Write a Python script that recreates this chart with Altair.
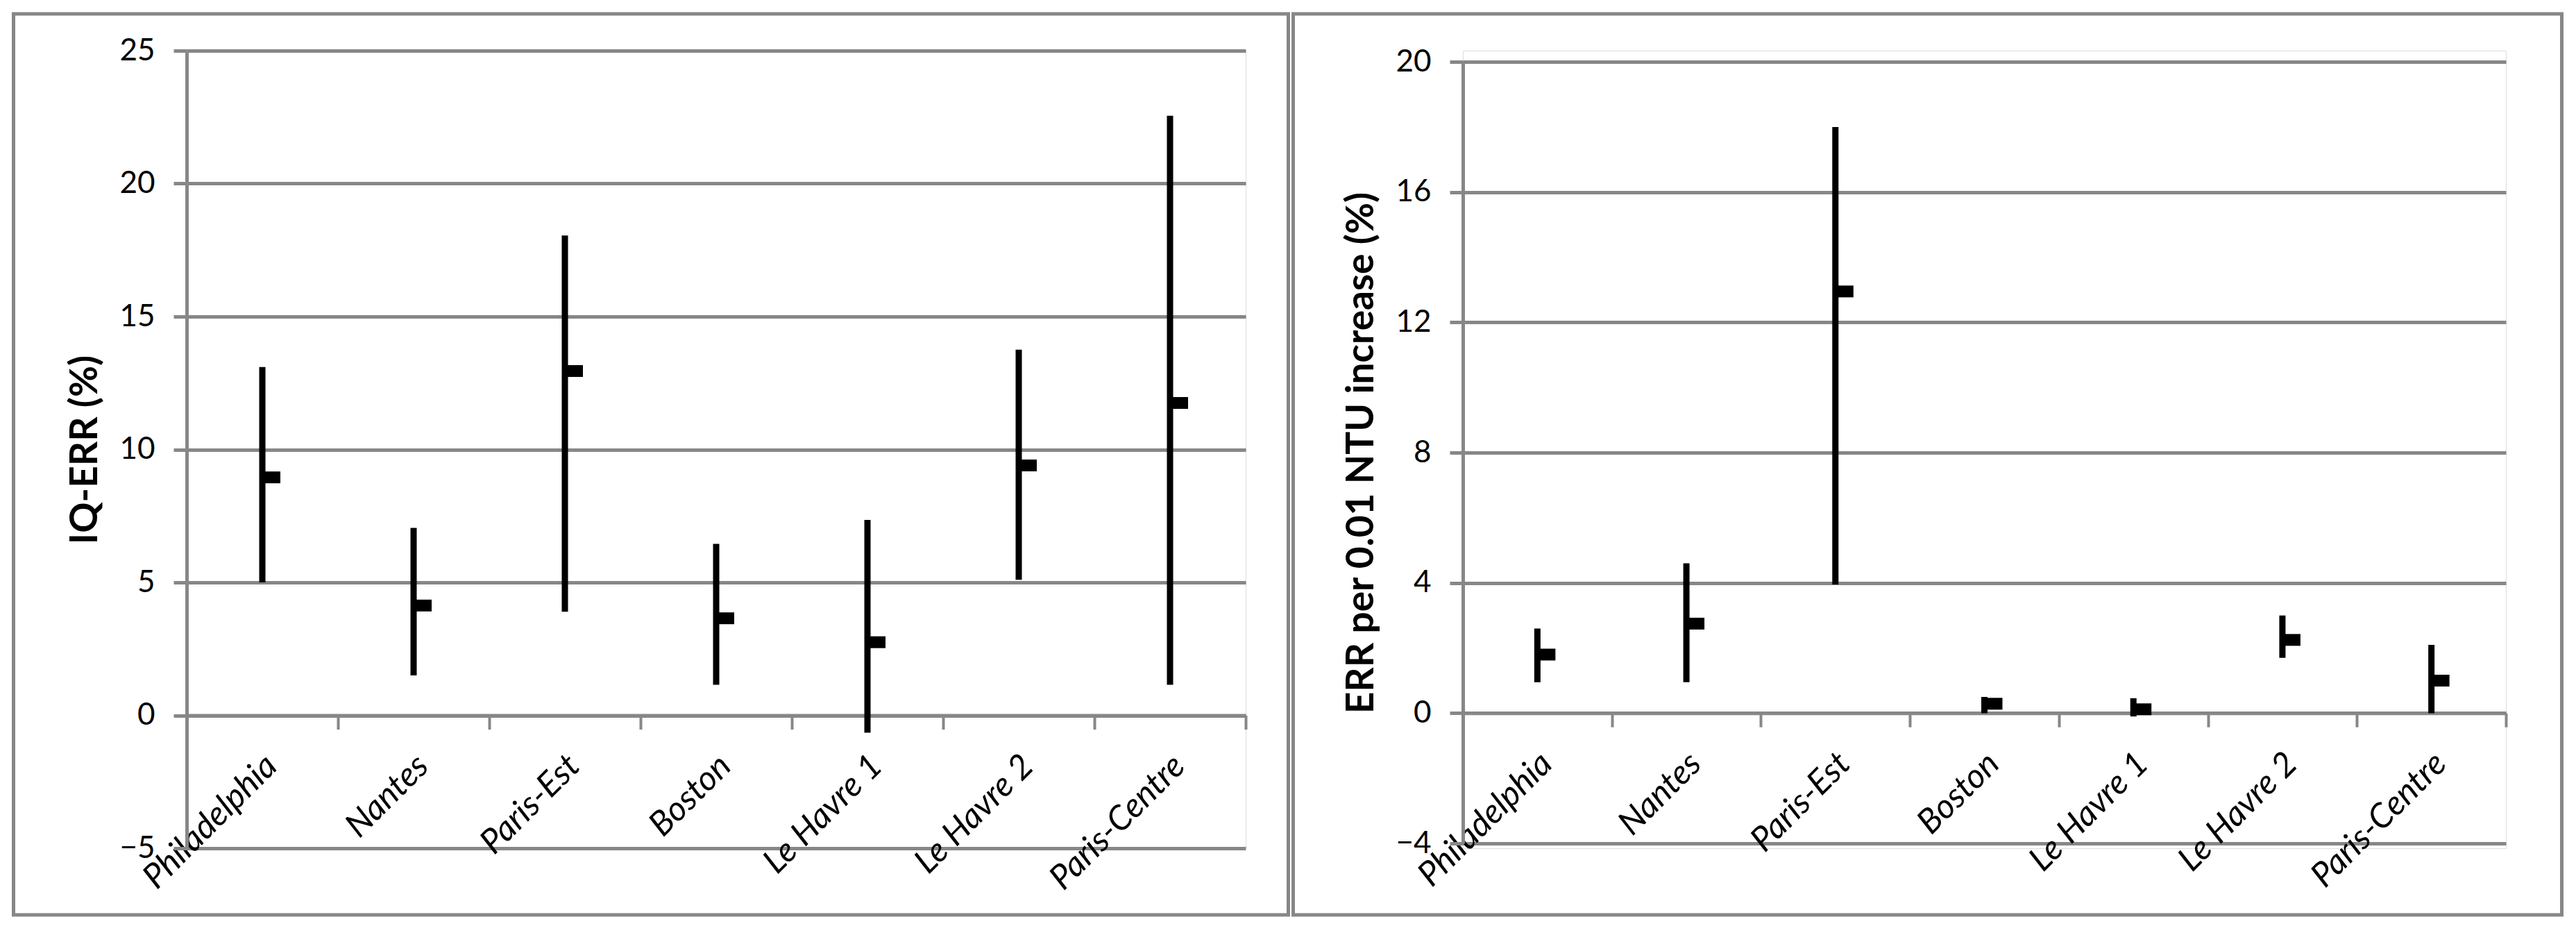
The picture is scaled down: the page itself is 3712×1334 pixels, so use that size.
import altair as alt
import pandas as pd

cities = ["Philadelphia", "Nantes", "Paris-Est", "Boston", "Le Havre 1", "Le Havre 2", "Paris-Centre"]

# Left panel: IQ-ERR (%)
iq_low = [5.0, 1.5, 3.9, 1.15, -0.65, 5.1, 1.15]
iq_high = [13.1, 7.05, 18.05, 6.45, 7.35, 13.75, 22.55]
iq_mid = [8.95, 4.13, 12.95, 3.65, 2.75, 9.4, 11.75]

# Right panel: ERR per 0.01 NTU increase (%)
ntu_low = [0.95, 0.95, 3.95, 0.0, -0.1, 1.7, 0.0]
ntu_high = [2.6, 4.6, 18.0, 0.5, 0.46, 3.0, 2.1]
ntu_mid = [1.8, 2.75, 12.95, 0.29, 0.12, 2.25, 1.0]

left_ticks = [-5, 0, 5, 10, 15, 20, 25]
right_ticks = [-4, 0, 4, 8, 12, 16, 20]

FONT = "Lato"
GRAY = "#878787"
VIEW_H = 1149


def panel(low, high, mid, ticks, title, width, y_range, x_offset, frame):
    df = pd.DataFrame({"city": cities, "low": low, "high": high, "mid": mid})
    base = alt.Chart(df)
    x_axis = alt.Axis(
        title="",
        offset=x_offset,
        grid=False,
        domainColor=GRAY,
        domainWidth=5,
        tickColor=GRAY,
        tickWidth=4,
        tickSize=20,
        tickBand="extent",
        labelAngle=-45,
        labelAlign="right",
        labelBaseline="top",
        labelPadding=28,
        labelOffset=-4,
        labelOverlap=False,
        labelLimit=800,
        labelFont=FONT,
        labelFontStyle="italic",
        labelFontSize=49,
        labelColor="black",
    )
    y_axis = alt.Axis(
        title=title,
        values=ticks,
        grid=True,
        gridColor=GRAY,
        gridWidth=5,
        domainColor=GRAY,
        domainWidth=5,
        tickColor=GRAY,
        tickWidth=5,
        tickSize=19,
        labelFont=FONT,
        labelFontSize=44,
        labelColor="black",
        labelPadding=27,
        titleFont=FONT,
        titleFontSize=55,
        titleFontWeight="bold",
        titleColor="black",
        titlePadding=20,
    )
    x = alt.X("city:N", sort=cities,
              scale=alt.Scale(paddingInner=0, paddingOuter=0), axis=x_axis)
    y = alt.Y("low:Q",
              scale=alt.Scale(domain=[ticks[0], ticks[-1]], range=y_range, nice=False, zero=False),
              axis=y_axis)
    rules = base.mark_rule(color="black", strokeWidth=9).encode(x=x, y=y, y2="high:Q")
    marks = base.mark_tick(color="black", size=26, thickness=17, xOffset=13, opacity=1).encode(
        x=alt.X("city:N", sort=cities), y=alt.Y("mid:Q"))
    fr = alt.Chart(pd.DataFrame({"k": [0]})).mark_rect(
        fillOpacity=0, stroke=GRAY, strokeWidth=5).encode(
        x=alt.value(frame[0]), x2=alt.value(frame[1]),
        y=alt.value(frame[2]), y2=alt.value(frame[3]))
    return alt.layer(fr, rules, marks).properties(width=width, height=VIEW_H)


left = panel(iq_low, iq_high, iq_mid, left_ticks, "IQ-ERR (%)", 1526, [1149, 0], -191.5,
             [-249.5, 1587.5, -53, 1245])
right = panel(ntu_low, ntu_high, ntu_mid, right_ticks, "ERR per 0.01 NTU increase (%)",
              1503, [1142.1, 16.1], -194.8, [-244.5, 1583.5, -53, 1245])

chart = alt.hconcat(left, right, spacing=0).properties(
    padding={"left": 8, "top": 9, "right": 0, "bottom": 0}
).configure_view(strokeWidth=0).configure(font=FONT, background="white")

chart.save("out.html", embed_options={"renderer": "svg", "actions": False})
